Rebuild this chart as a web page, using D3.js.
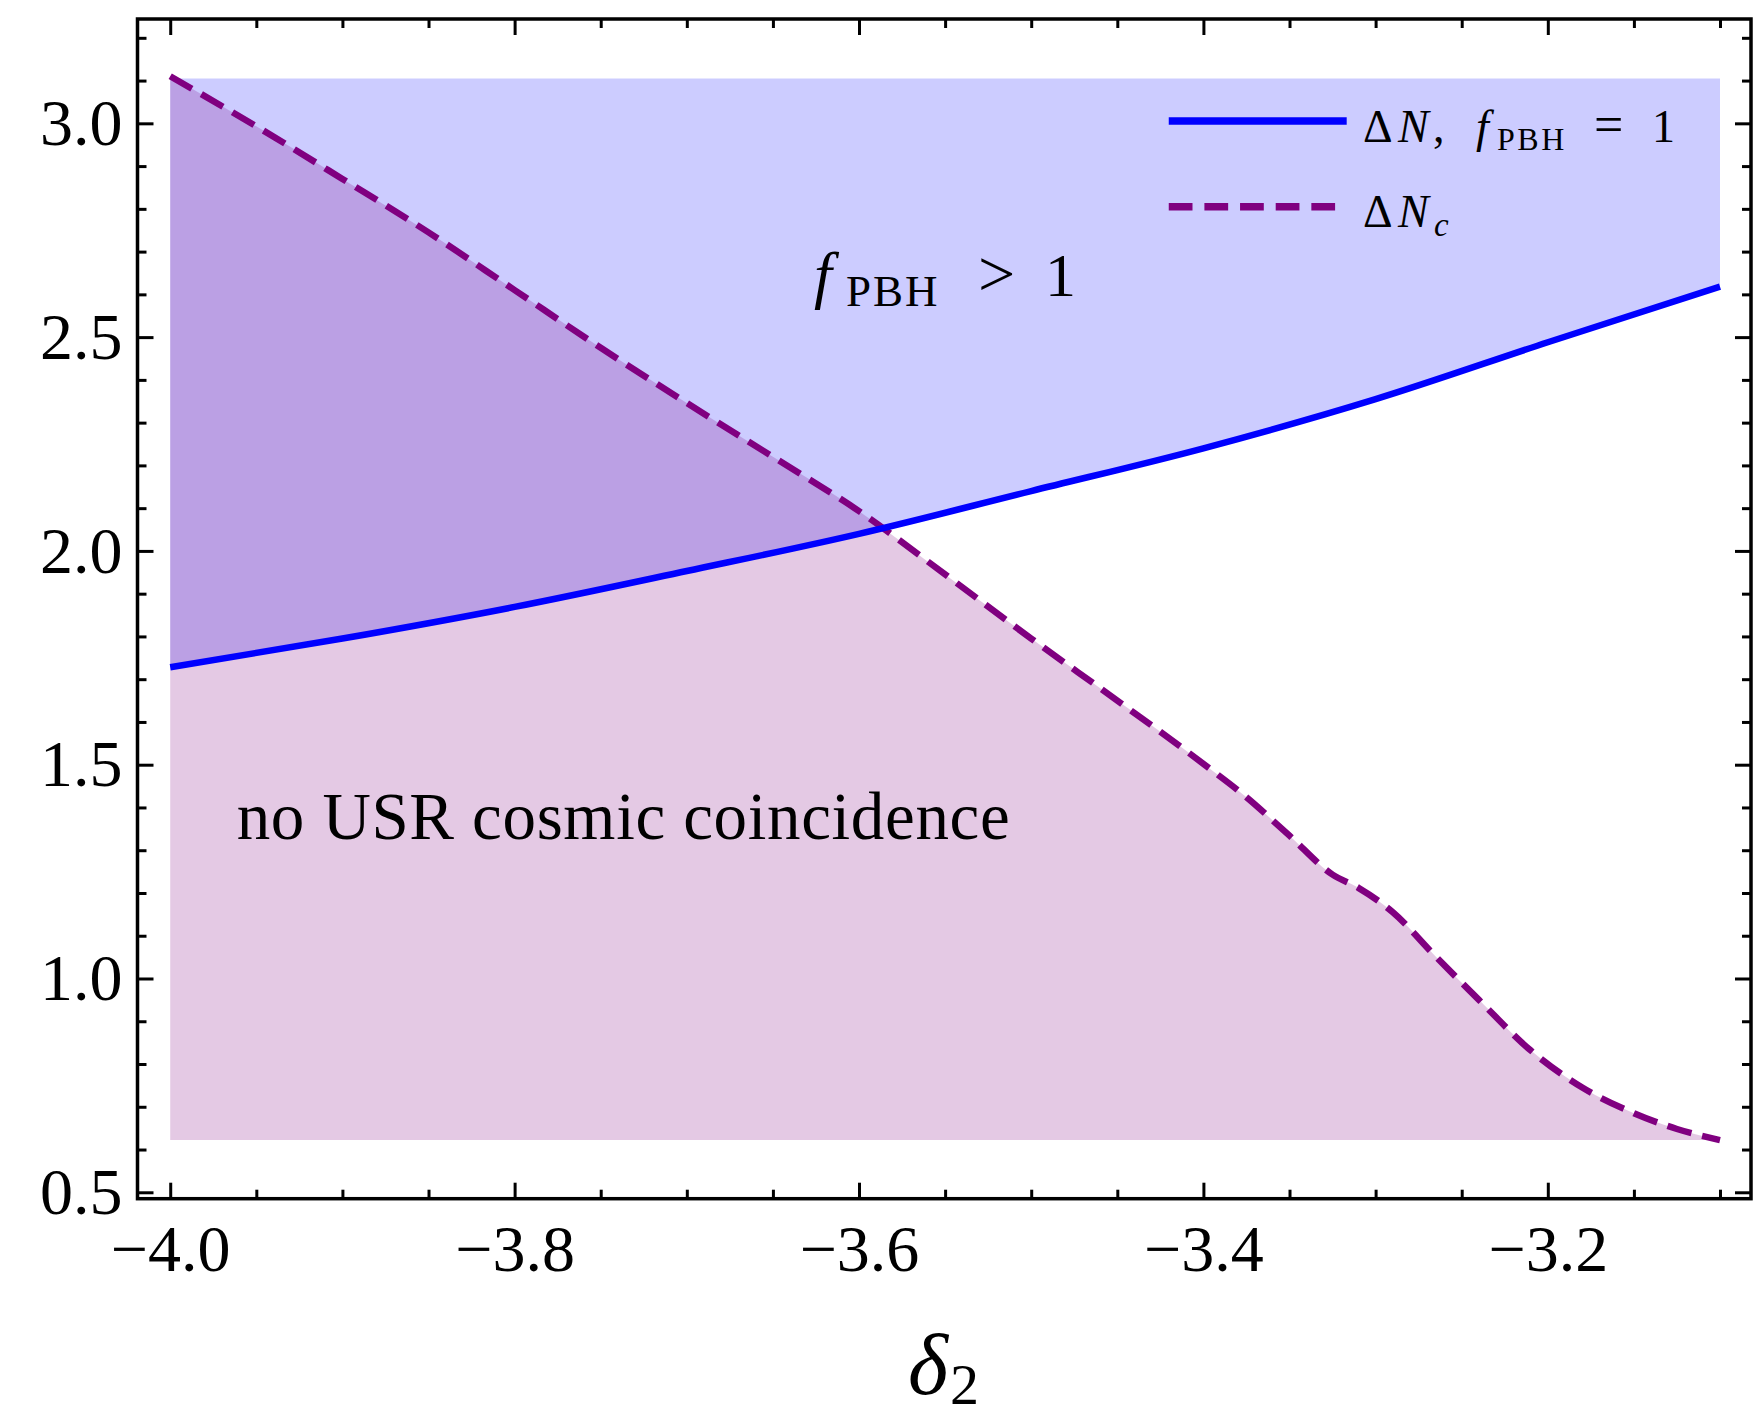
<!DOCTYPE html>
<html>
<head>
<meta charset="utf-8">
<script src="https://cdn.jsdelivr.net/npm/d3@7"></script>
<style>
  html, body { margin: 0; padding: 0; background: #fff; }
  svg { display: block; }
  text { font-family: "Liberation Serif", "Times New Roman", serif; fill: #000; }
</style>
</head>
<body>
<svg id="chart" width="1753" height="1421"></svg>
<script>
// ---------------- data ----------------
// ΔN for f_PBH = 1 (solid blue)
const deltaX = [-4.0, -3.9, -3.8, -3.7, -3.6, -3.5, -3.4, -3.3, -3.2, -3.1];
const deltaN = [1.728, 1.795, 1.869, 1.953, 2.040, 2.140, 2.240, 2.355, 2.488, 2.618];

// ΔN_c (dashed purple)
const deltaXc = [-4.0, -3.95, -3.9, -3.85, -3.8, -3.75, -3.7, -3.65, -3.6, -3.55, -3.5, -3.45, -3.4,
                 -3.375, -3.35, -3.325, -3.31, -3.29, -3.265, -3.24, -3.21, -3.18, -3.15, -3.125, -3.1];
const deltaNc = [3.110, 2.993, 2.870, 2.745, 2.610, 2.475, 2.346, 2.220, 2.093, 1.945, 1.795, 1.650, 1.502,
                 1.424, 1.334, 1.243, 1.212, 1.155, 1.051, 0.950, 0.832, 0.745, 0.685, 0.648, 0.622];

const xTicksMajor = [-4.0, -3.8, -3.6, -3.4, -3.2];
const xTickLabels = ["\u22124.0", "\u22123.8", "\u22123.6", "\u22123.4", "\u22123.2"];
const xTicksMinor = [-3.95, -3.9, -3.85, -3.75, -3.7, -3.65, -3.55, -3.5, -3.45, -3.35, -3.3, -3.25, -3.15, -3.1];
const yTicksMajor = [0.5, 1.0, 1.5, 2.0, 2.5, 3.0];
const yTickLabels = ["0.5", "1.0", "1.5", "2.0", "2.5", "3.0"];
const yTicksMinor = [0.6, 0.7, 0.8, 0.9, 1.1, 1.2, 1.3, 1.4, 1.6, 1.7, 1.8, 1.9, 2.1, 2.2, 2.3, 2.4, 2.6, 2.7, 2.8, 2.9, 3.1, 3.2];

// ---------------- layout ----------------
const L = 137.5, R = 1751, T = 19, B = 1198.7;
const svg = d3.select("#chart");

const x = d3.scaleLinear().domain([-4.019, -3.082]).range([L, R]);
const y = d3.scaleLinear().domain([0.485, 3.244]).range([B, T]);

const blue = deltaX.map((d, i) => ({x: d, y: deltaN[i]}));
const purple = deltaXc.map((d, i) => ({x: d, y: deltaNc[i]}));
const fillTop = d3.max(deltaNc) - 0.005;
const fillBottom = d3.min(deltaNc);

// ---------------- fills ----------------
svg.append("path")
  .datum(blue)
  .attr("d", d3.area().curve(d3.curveMonotoneX)
      .x(d => x(d.x)).y0(y(fillTop)).y1(d => y(d.y)))
  .attr("fill", "#0000ff").attr("fill-opacity", 0.2);

svg.append("path")
  .datum(purple)
  .attr("d", d3.area().curve(d3.curveMonotoneX)
      .x(d => x(d.x)).y0(y(fillBottom)).y1(d => y(d.y)))
  .attr("fill", "#800080").attr("fill-opacity", 0.21);

// ---------------- curves ----------------
const line = d3.line().curve(d3.curveMonotoneX).x(d => x(d.x)).y(d => y(d.y));
svg.append("path").datum(purple).attr("d", line)
  .attr("fill", "none").attr("stroke", "#800080").attr("stroke-width", 6.5)
  .attr("stroke-dasharray", "25,11");
svg.append("path").datum(blue).attr("d", line)
  .attr("fill", "none").attr("stroke", "#0000ff").attr("stroke-width", 6.5);

// ---------------- axes ----------------
function styleAxis(g) {
  g.select(".domain").remove();
  g.selectAll(".tick line").attr("stroke", "#000").attr("stroke-width", 3);
  g.selectAll(".tick text").style("font-family", "Liberation Serif").style("font-size", "66px").attr("fill", "#000");
}
const MAJ = 16, MIN = 9;

// bottom
svg.append("g").attr("transform", `translate(0,${B})`)
  .call(d3.axisBottom(x).tickValues(xTicksMajor).tickSize(-MAJ).tickPadding(25)
    .tickFormat((d, i) => xTickLabels[i]))
  .call(styleAxis);
svg.append("g").attr("transform", `translate(0,${B})`)
  .call(d3.axisBottom(x).tickValues(xTicksMinor).tickSize(-MIN).tickFormat(""))
  .call(styleAxis);
// top
svg.append("g").attr("transform", `translate(0,${T})`)
  .call(d3.axisTop(x).tickValues(xTicksMajor).tickSize(-MAJ).tickFormat(""))
  .call(styleAxis);
svg.append("g").attr("transform", `translate(0,${T})`)
  .call(d3.axisTop(x).tickValues(xTicksMinor).tickSize(-MIN).tickFormat(""))
  .call(styleAxis);
// left
svg.append("g").attr("transform", `translate(${L},0)`)
  .call(d3.axisLeft(y).tickValues(yTicksMajor).tickSize(-MAJ).tickPadding(15)
    .tickFormat((d, i) => yTickLabels[i]))
  .call(styleAxis);
svg.append("g").attr("transform", `translate(${L},0)`)
  .call(d3.axisLeft(y).tickValues(yTicksMinor).tickSize(-MIN).tickFormat(""))
  .call(styleAxis);
// right
svg.append("g").attr("transform", `translate(${R},0)`)
  .call(d3.axisRight(y).tickValues(yTicksMajor).tickSize(-MAJ).tickFormat(""))
  .call(styleAxis);
svg.append("g").attr("transform", `translate(${R},0)`)
  .call(d3.axisRight(y).tickValues(yTicksMinor).tickSize(-MIN).tickFormat(""))
  .call(styleAxis);

// frame
svg.append("rect").attr("x", L).attr("y", T).attr("width", R - L).attr("height", B - T)
  .attr("fill", "none").attr("stroke", "#000").attr("stroke-width", 3.5);

// axis title δ2
const xt = svg.append("text").attr("x", 908).attr("y", 1394);
xt.append("tspan").text("δ").style("font-size", "86px").style("font-style", "italic");
xt.append("tspan").attr("x", 950).attr("y", 1404).text("2").style("font-size", "58px");

// ---------------- legend ----------------
svg.append("line").attr("x1", 1168.75).attr("x2", 1346.7).attr("y1", 121).attr("y2", 121)
  .attr("stroke", "#0000ff").attr("stroke-width", 7.5);
svg.append("line").attr("x1", 1168.75).attr("x2", 1336).attr("y1", 206.7).attr("y2", 206.7)
  .attr("stroke", "#800080").attr("stroke-width", 7.5).attr("stroke-dasharray", "23.75,11.9");

const l1 = svg.append("text").attr("y", 141.7).style("font-size", "46px");
l1.append("tspan").attr("x", 1363).text("Δ");
l1.append("tspan").attr("x", 1398).text("N").style("font-style", "italic");
l1.append("tspan").attr("x", 1433).text(",");
l1.append("tspan").attr("x", 1476).text("f").style("font-style", "italic");
l1.append("tspan").attr("x", 1497).attr("y", 150).text("PBH").style("font-size", "32px").style("letter-spacing", "2.5px");
l1.append("tspan").attr("x", 1594).attr("y", 141.7).text("=").style("font-size", "52px");
l1.append("tspan").attr("x", 1652).text("1");

const l2 = svg.append("text").attr("y", 226.7).style("font-size", "46px");
l2.append("tspan").attr("x", 1363).text("Δ");
l2.append("tspan").attr("x", 1398).text("N").style("font-style", "italic");
l2.append("tspan").attr("x", 1434).attr("y", 236).text("c").style("font-style", "italic").style("font-size", "33px");

// ---------------- annotations ----------------
const a1 = svg.append("text").attr("y", 296).style("font-size", "62px");
a1.append("tspan").attr("x", 814).text("f").style("font-style", "italic").style("font-size", "64px");
a1.append("tspan").attr("x", 846).attr("y", 306).text("PBH").style("font-size", "45px").style("letter-spacing", "2px");
a1.append("tspan").attr("x", 978).attr("y", 296).text(">").style("font-size", "66px");
a1.append("tspan").attr("x", 1045).text("1");

svg.append("text").attr("x", 236.7).attr("y", 839.3)
  .style("font-size", "67px").attr("textLength", 773).attr("lengthAdjust", "spacing")
  .text("no USR cosmic coincidence");
</script>
</body>
</html>
